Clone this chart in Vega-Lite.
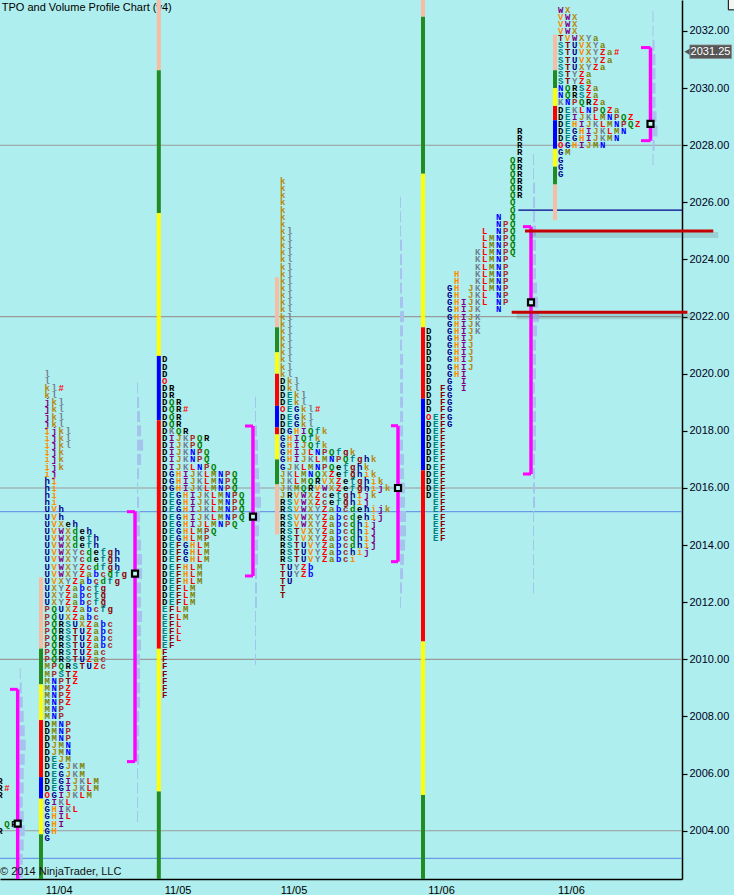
{
"$schema":"https://vega.github.io/schema/vega-lite/v6.json",
"width":682,"height":879,
"autosize":{"type":"none"},
"padding":{"left":0,"top":0,"right":52,"bottom":16},
"background":"#AFEEEE",
"config":{"view":{"stroke":null},"axis":{"grid":false}},
"resolve":{"scale":{"color":"independent"}},
"datasets":{
"sessions":[
{"g":0,"x0":0,"xv":2.53,"xt":1.43,"xvp":2.82},
{"g":1,"x0":6.76,"xb":5.86,"xv":19.29,"xt":18.14,"xvp":19.58},
{"g":2,"x0":23.53,"xb":22.69,"xv":36.14,"xt":35.0,"xvp":36.43},
{"g":3,"x0":40.39,"xb":39.57,"xv":56.86,"xt":55.86,"xvp":57.15},
{"g":4,"x0":61.24,"xb":60.43,"xv":75.86,"xt":74.71,"xvp":76.15},
{"g":5,"x0":80.1,"xb":79.29,"xv":92.93,"xt":91.57,"xvp":93.22}
],
"letters":[
{"g":0,"p":2005.75,"s":"R"},{"g":0,"p":2005.5,"s":"R#"},{"g":0,"p":2005.25,"s":"R"},{"g":0,"p":2004.25,"s":".QR"},{"g":0,"p":2004,"s":"R"},
{"g":1,"p":2020,"s":"l"},{"g":1,"p":2019.75,"s":"l"},{"g":1,"p":2019.5,"s":"kl#"},{"g":1,"p":2019.25,"s":"kl"},
{"g":1,"p":2019,"s":"jkl"},{"g":1,"p":2018.75,"s":"jkl"},{"g":1,"p":2018.5,"s":"jkl"},{"g":1,"p":2018.25,"s":"jkl"},
{"g":1,"p":2018,"s":"ijkl"},{"g":1,"p":2017.75,"s":"ijkl"},{"g":1,"p":2017.5,"s":"ijkl"},{"g":1,"p":2017.25,"s":"ijk"},
{"g":1,"p":2017,"s":"ijk"},{"g":1,"p":2016.75,"s":"ijk"},{"g":1,"p":2016.5,"s":"ij"},{"g":1,"p":2016.25,"s":"hi"},
{"g":1,"p":2016,"s":"hi"},{"g":1,"p":2015.75,"s":"hi"},{"g":1,"p":2015.5,"s":"hi"},{"g":1,"p":2015.25,"s":"UVh"},
{"g":1,"p":2015,"s":"UVh"},{"g":1,"p":2014.75,"s":"UVXeh"},{"g":1,"p":2014.5,"s":"UVWXdeh"},{"g":1,"p":2014.25,"s":"UVWXdefh"},
{"g":1,"p":2014,"s":"UVWXdefh"},{"g":1,"p":2013.75,"s":"UVWXYcdefgh"},{"g":1,"p":2013.5,"s":"UVWXYcdefgh"},{"g":1,"p":2013.25,"s":"UVWXYZcdfgh"},
{"g":1,"p":2013,"s":"UVWXYZabcdfg"},{"g":1,"p":2012.75,"s":"UVXYZabcdfg"},{"g":1,"p":2012.5,"s":"UXYZabcfg"},{"g":1,"p":2012.25,"s":"UXYZabcfg"},
{"g":1,"p":2012,"s":"UXYZabcfg"},{"g":1,"p":2011.75,"s":"PQUXZabcfg"},{"g":1,"p":2011.5,"s":"PQUXZabc"},{"g":1,"p":2011.25,"s":"PQRSUXZabc"},
{"g":1,"p":2011,"s":"PQRSTUZabc"},{"g":1,"p":2010.75,"s":"PQRSTUZabc"},{"g":1,"p":2010.5,"s":"PQRSTUZabc"},{"g":1,"p":2010.25,"s":"PQRSTUZac"},
{"g":1,"p":2010,"s":"PQRSTUZac"},{"g":1,"p":2009.75,"s":"MPQRSTUZc"},{"g":1,"p":2009.5,"s":"MPSTZ"},{"g":1,"p":2009.25,"s":"MNPTZ"},
{"g":1,"p":2009,"s":"MNPZ"},{"g":1,"p":2008.75,"s":"MNPZ"},{"g":1,"p":2008.5,"s":"MNPZ"},{"g":1,"p":2008.25,"s":"MNP"},
{"g":1,"p":2008,"s":"MNP"},{"g":1,"p":2007.75,"s":"DMNP"},{"g":1,"p":2007.5,"s":"DMNP"},{"g":1,"p":2007.25,"s":"DMNP"},
{"g":1,"p":2007,"s":"DJMN"},{"g":1,"p":2006.75,"s":"DJMN"},{"g":1,"p":2006.5,"s":"DEJM"},{"g":1,"p":2006.25,"s":"DEGJKM"},
{"g":1,"p":2006,"s":"DEGJKM"},{"g":1,"p":2005.75,"s":"DEGIJKLM"},{"g":1,"p":2005.5,"s":"DEGIJKLM"},{"g":1,"p":2005.25,"s":"OGIJKLM"},
{"g":1,"p":2005,"s":"GIKL"},{"g":1,"p":2004.75,"s":"GHIKL"},{"g":1,"p":2004.5,"s":"GHIL"},{"g":1,"p":2004.25,"s":"GHI"},
{"g":1,"p":2004,"s":"GH"},{"g":1,"p":2003.75,"s":"G"},
{"g":2,"p":2020.5,"s":"D"},{"g":2,"p":2020.25,"s":"D"},{"g":2,"p":2020,"s":"D"},{"g":2,"p":2019.75,"s":"O"},
{"g":2,"p":2019.5,"s":"DR"},{"g":2,"p":2019.25,"s":"DR"},{"g":2,"p":2019,"s":"DQR"},{"g":2,"p":2018.75,"s":"DQR#"},
{"g":2,"p":2018.5,"s":"DQR"},{"g":2,"p":2018.25,"s":"DQR"},{"g":2,"p":2018,"s":"DKQR"},{"g":2,"p":2017.75,"s":"DIJKPQR"},
{"g":2,"p":2017.5,"s":"DIJKPQ"},{"g":2,"p":2017.25,"s":"DIJKNPQ"},{"g":2,"p":2017,"s":"DIJKNPQ"},{"g":2,"p":2016.75,"s":"DIJKLNPQ"},
{"g":2,"p":2016.5,"s":"DGHIJKLMNPQ"},{"g":2,"p":2016.25,"s":"DGHIJKLMNPQ"},{"g":2,"p":2016,"s":"DGHIJKLMNPQ"},{"g":2,"p":2015.75,"s":"DEGHIJKLMNPQ"},
{"g":2,"p":2015.5,"s":"DEGHIJKLMNPQ"},{"g":2,"p":2015.25,"s":"DEGHIJKLMNPQ"},{"g":2,"p":2015,"s":"DEGHIJKLMNPQ"},{"g":2,"p":2014.75,"s":"DEGHIJLMNPQ"},
{"g":2,"p":2014.5,"s":"DEGHLMPQ"},{"g":2,"p":2014.25,"s":"DEGHLMP"},{"g":2,"p":2014,"s":"DEFGHLM"},{"g":2,"p":2013.75,"s":"DEFGHLM"},
{"g":2,"p":2013.5,"s":"DEFGHLM"},{"g":2,"p":2013.25,"s":"DEFHLM"},{"g":2,"p":2013,"s":"DEFHLM"},{"g":2,"p":2012.75,"s":"DEFHLM"},
{"g":2,"p":2012.5,"s":"DEFLM"},{"g":2,"p":2012.25,"s":"DEFLM"},{"g":2,"p":2012,"s":"DEFLM"},{"g":2,"p":2011.75,"s":"EFLM"},
{"g":2,"p":2011.5,"s":"EFLM"},{"g":2,"p":2011.25,"s":"EFL"},{"g":2,"p":2011,"s":"EFL"},{"g":2,"p":2010.75,"s":"EFL"},
{"g":2,"p":2010.5,"s":"EF"},{"g":2,"p":2010.25,"s":"F"},{"g":2,"p":2010,"s":"F"},{"g":2,"p":2009.75,"s":"F"},
{"g":2,"p":2009.5,"s":"F"},{"g":2,"p":2009.25,"s":"F"},{"g":2,"p":2009,"s":"F"},{"g":2,"p":2008.75,"s":"F"},
{"g":3,"p":2026.75,"s":"k"},{"g":3,"p":2026.5,"s":"k"},{"g":3,"p":2026.25,"s":"k"},{"g":3,"p":2026,"s":"k"},
{"g":3,"p":2025.75,"s":"k"},{"g":3,"p":2025.5,"s":"k"},{"g":3,"p":2025.25,"s":"k"},{"g":3,"p":2025,"s":"kl"},
{"g":3,"p":2024.75,"s":"kl"},{"g":3,"p":2024.5,"s":"kl"},{"g":3,"p":2024.25,"s":"kl"},{"g":3,"p":2024,"s":"kl"},
{"g":3,"p":2023.75,"s":"kl"},{"g":3,"p":2023.5,"s":"kl"},{"g":3,"p":2023.25,"s":"kl"},{"g":3,"p":2023,"s":"kl"},
{"g":3,"p":2022.75,"s":"kl"},{"g":3,"p":2022.5,"s":"kl"},{"g":3,"p":2022.25,"s":"kl"},{"g":3,"p":2022,"s":"kl"},
{"g":3,"p":2021.75,"s":"kl"},{"g":3,"p":2021.5,"s":"kl"},{"g":3,"p":2021.25,"s":"kl"},{"g":3,"p":2021,"s":"kl"},
{"g":3,"p":2020.75,"s":"kl"},{"g":3,"p":2020.5,"s":"kl"},{"g":3,"p":2020.25,"s":"kl"},{"g":3,"p":2020,"s":"kl"},
{"g":3,"p":2019.75,"s":"Dkl"},{"g":3,"p":2019.5,"s":"Dkl"},{"g":3,"p":2019.25,"s":"DEkl"},{"g":3,"p":2019,"s":"DEkl"},
{"g":3,"p":2018.75,"s":"OEGkl#"},{"g":3,"p":2018.5,"s":"DEGkl"},{"g":3,"p":2018.25,"s":"DEGkl"},{"g":3,"p":2018,"s":"DGHIQfk"},
{"g":3,"p":2017.75,"s":"GHIQfk"},{"g":3,"p":2017.5,"s":"GHIJQfk"},{"g":3,"p":2017.25,"s":"GHIJLNPQfgk"},{"g":3,"p":2017,"s":"GHIJKLMNPQfghk"},
{"g":3,"p":2016.75,"s":"GJKLMNPQefghk"},{"g":3,"p":2016.5,"s":"JKLMNQXZefghik"},{"g":3,"p":2016.25,"s":"JKLMQRVXZefghik"},{"g":3,"p":2016,"s":"JKMQRVWXZefghijk"},
{"g":3,"p":2015.75,"s":"JRVWXZcefghijk"},{"g":3,"p":2015.5,"s":"RSVWXZcefghij"},{"g":3,"p":2015.25,"s":"RSVWXYZabcdehijk"},{"g":3,"p":2015,"s":"RSVWXYZabcdehij"},
{"g":3,"p":2014.75,"s":"RSVWXYZabcdhij"},{"g":3,"p":2014.5,"s":"RSTVXYZabcdhij"},{"g":3,"p":2014.25,"s":"RSTVXYZabcdhij"},{"g":3,"p":2014,"s":"RSTUVYZabcdhij"},
{"g":3,"p":2013.75,"s":"RSTUVYZabchij"},{"g":3,"p":2013.5,"s":"RSTUVYZabci"},{"g":3,"p":2013.25,"s":"TUYZb"},{"g":3,"p":2013,"s":"TUYZb"},
{"g":3,"p":2012.75,"s":"TU"},{"g":3,"p":2012.5,"s":"T"},{"g":3,"p":2012.25,"s":"T"},
{"g":4,"p":2028.5,"s":".............R"},{"g":4,"p":2028.25,"s":".............R"},{"g":4,"p":2028,"s":".............R"},{"g":4,"p":2027.75,"s":".............R"},
{"g":4,"p":2027.5,"s":"............QR"},{"g":4,"p":2027.25,"s":"............QR"},{"g":4,"p":2027,"s":"............QR"},{"g":4,"p":2026.75,"s":"............QR"},
{"g":4,"p":2026.5,"s":"............QR"},{"g":4,"p":2026.25,"s":"............QR"},{"g":4,"p":2026,"s":"............Q"},{"g":4,"p":2025.75,"s":"............Q"},
{"g":4,"p":2025.5,"s":"..........N.Q"},{"g":4,"p":2025.25,"s":"..........NPQ"},{"g":4,"p":2025,"s":"........L.NPQ"},{"g":4,"p":2024.75,"s":"........LMNPQ"},
{"g":4,"p":2024.5,"s":"........LMNPQ"},{"g":4,"p":2024.25,"s":".......KLMNPQ"},{"g":4,"p":2024,"s":".......KLMNP"},{"g":4,"p":2023.75,"s":".......KLMNP"},
{"g":4,"p":2023.5,"s":"....H..KLMNP"},{"g":4,"p":2023.25,"s":"....H..KLMNP"},{"g":4,"p":2023,"s":"...GH.JKLMNP"},{"g":4,"p":2022.75,"s":"...GH.JKL.NP"},
{"g":4,"p":2022.5,"s":"...GHIJKL.NP"},{"g":4,"p":2022.25,"s":"...GHIJK..N"},{"g":4,"p":2022,"s":"...GHIJK"},{"g":4,"p":2021.75,"s":"...GHIJK"},
{"g":4,"p":2021.5,"s":"D..GHIJK"},{"g":4,"p":2021.25,"s":"D..GHIJ"},{"g":4,"p":2021,"s":"D..GHIJ"},{"g":4,"p":2020.75,"s":"D..GHIJ"},
{"g":4,"p":2020.5,"s":"D..GHIJ"},{"g":4,"p":2020.25,"s":"D..GHIJ"},{"g":4,"p":2020,"s":"D..GHI"},{"g":4,"p":2019.75,"s":"D..G.I"},
{"g":4,"p":2019.5,"s":"D.FG.I"},{"g":4,"p":2019.25,"s":"D.FG"},{"g":4,"p":2019,"s":"D.FG"},{"g":4,"p":2018.75,"s":"D.FG"},
{"g":4,"p":2018.5,"s":"OEFG"},{"g":4,"p":2018.25,"s":"DEFG"},{"g":4,"p":2018,"s":"DEF"},{"g":4,"p":2017.75,"s":"DEF"},
{"g":4,"p":2017.5,"s":"DEF"},{"g":4,"p":2017.25,"s":"DEF"},{"g":4,"p":2017,"s":"DEF"},{"g":4,"p":2016.75,"s":"DEF"},
{"g":4,"p":2016.5,"s":"DEF"},{"g":4,"p":2016.25,"s":"DEF"},{"g":4,"p":2016,"s":"DEF"},{"g":4,"p":2015.75,"s":"DEF"},
{"g":4,"p":2015.5,"s":".EF"},{"g":4,"p":2015.25,"s":".EF"},{"g":4,"p":2015,"s":".EF"},{"g":4,"p":2014.75,"s":".EF"},
{"g":4,"p":2014.5,"s":".EF"},{"g":4,"p":2014.25,"s":".EF"},
{"g":5,"p":2032.75,"s":"WX"},{"g":5,"p":2032.5,"s":"VWX"},{"g":5,"p":2032.25,"s":"VWX"},{"g":5,"p":2032,"s":"VWX"},
{"g":5,"p":2031.75,"s":"TVWXYa"},{"g":5,"p":2031.5,"s":"STUVXYa"},{"g":5,"p":2031.25,"s":"STUVXYZa#"},{"g":5,"p":2031,"s":"STUVXYZa"},
{"g":5,"p":2030.75,"s":"STUXYZa"},{"g":5,"p":2030.5,"s":"STYZa"},{"g":5,"p":2030.25,"s":"STYZa"},{"g":5,"p":2030,"s":"NQRSZa"},
{"g":5,"p":2029.75,"s":"NQRSZa"},{"g":5,"p":2029.5,"s":"KNPQRZa"},{"g":5,"p":2029.25,"s":"DEKLNPQZa"},{"g":5,"p":2029,"s":"DEIJKLMNPQZ"},
{"g":5,"p":2028.75,"s":"DEHIJKLMNPQZ"},{"g":5,"p":2028.5,"s":"DEGHIJKLMN"},{"g":5,"p":2028.25,"s":"DEGHIJKMN"},{"g":5,"p":2028,"s":"OGHIJMN"},
{"g":5,"p":2027.75,"s":"GM"},{"g":5,"p":2027.5,"s":"G"},{"g":5,"p":2027.25,"s":"G"},{"g":5,"p":2027,"s":"G"}
],
"segs":[
{"g":1,"lo":2010.375,"hi":2012.875,"k":"s"},{"g":1,"lo":2009.125,"hi":2010.375,"k":"g"},{"g":1,"lo":2007.875,"hi":2009.125,"k":"y"},
{"g":1,"lo":2005.875,"hi":2007.875,"k":"r"},{"g":1,"lo":2005.125,"hi":2005.875,"k":"b"},{"g":1,"lo":2003.875,"hi":2005.125,"k":"y"},
{"g":1,"lo":2002.31,"hi":2003.875,"k":"g"},
{"g":2,"lo":2030.625,"hi":2033.085,"k":"s"},{"g":2,"lo":2025.625,"hi":2030.625,"k":"g"},{"g":2,"lo":2020.625,"hi":2025.625,"k":"y"},
{"g":2,"lo":2018.375,"hi":2020.625,"k":"b"},{"g":2,"lo":2010.375,"hi":2018.375,"k":"r"},{"g":2,"lo":2005.375,"hi":2010.375,"k":"y"},
{"g":2,"lo":2002.31,"hi":2005.375,"k":"g"},
{"g":3,"lo":2021.625,"hi":2023.375,"k":"s"},{"g":3,"lo":2020.75,"hi":2021.625,"k":"g"},{"g":3,"lo":2020.0,"hi":2020.75,"k":"y"},
{"g":3,"lo":2018.875,"hi":2020.0,"k":"r"},{"g":3,"lo":2018.125,"hi":2018.875,"k":"b"},{"g":3,"lo":2017.875,"hi":2018.125,"k":"r"},
{"g":3,"lo":2017.0,"hi":2017.875,"k":"y"},{"g":3,"lo":2016.125,"hi":2017.0,"k":"g"},{"g":3,"lo":2014.375,"hi":2016.125,"k":"s"},
{"g":4,"lo":2032.5,"hi":2033.085,"k":"s"},{"g":4,"lo":2027.0,"hi":2032.5,"k":"g"},{"g":4,"lo":2021.625,"hi":2027.0,"k":"y"},
{"g":4,"lo":2019.125,"hi":2021.625,"k":"r"},{"g":4,"lo":2016.625,"hi":2019.125,"k":"b"},{"g":4,"lo":2010.625,"hi":2016.625,"k":"r"},
{"g":4,"lo":2005.25,"hi":2010.625,"k":"y"},{"g":4,"lo":2002.31,"hi":2005.25,"k":"g"},
{"g":5,"lo":2030.625,"hi":2031.875,"k":"s"},{"g":5,"lo":2030.0,"hi":2030.625,"k":"g"},{"g":5,"lo":2029.375,"hi":2030.0,"k":"y"},
{"g":5,"lo":2028.875,"hi":2029.375,"k":"r"},{"g":5,"lo":2027.875,"hi":2028.875,"k":"b"},{"g":5,"lo":2027.25,"hi":2027.875,"k":"y"},
{"g":5,"lo":2026.625,"hi":2027.25,"k":"g"},{"g":5,"lo":2025.375,"hi":2026.625,"k":"s"}
],
"brackets":[
{"g":0,"lo":2001.5,"hi":2008.95,"poc":2004.25},
{"g":1,"lo":2006.42,"hi":2015.17,"poc":2013.0},
{"g":2,"lo":2012.92,"hi":2018.17,"poc":2015.0},
{"g":3,"lo":2013.42,"hi":2018.18,"poc":2016.0},
{"g":4,"lo":2016.49,"hi":2025.15,"poc":2022.5},
{"g":5,"lo":2028.16,"hi":2031.42,"poc":2028.75}
],
"vols":[
{"g":0,"p":2009.5,"w":1},{"g":0,"p":2009,"w":2},{"g":0,"p":2008.5,"w":3},{"g":0,"p":2008,"w":4},{"g":0,"p":2007.5,"w":5},
{"g":0,"p":2007,"w":6},{"g":0,"p":2006.5,"w":5},{"g":0,"p":2006,"w":4},{"g":0,"p":2005.5,"w":4},{"g":0,"p":2005,"w":3},
{"g":0,"p":2004.5,"w":4},{"g":0,"p":2004,"w":5},{"g":0,"p":2003.5,"w":4},{"g":0,"p":2003,"w":3},{"g":0,"p":2002.5,"w":3},
{"g":1,"p":2019.5,"w":1},{"g":1,"p":2019,"w":2},{"g":1,"p":2018.5,"w":3},{"g":1,"p":2018,"w":4},{"g":1,"p":2017.5,"w":6},
{"g":1,"p":2017,"w":4},{"g":1,"p":2016.5,"w":2},{"g":1,"p":2016,"w":1},{"g":1,"p":2015.5,"w":2},{"g":1,"p":2015,"w":3},
{"g":1,"p":2014.5,"w":3},{"g":1,"p":2014,"w":4},{"g":1,"p":2013.5,"w":5},{"g":1,"p":2013,"w":5},{"g":1,"p":2012.5,"w":4},
{"g":1,"p":2012,"w":4},{"g":1,"p":2011.5,"w":5},{"g":1,"p":2011,"w":4},{"g":1,"p":2010.5,"w":4},{"g":1,"p":2010,"w":3},
{"g":1,"p":2009.5,"w":3},{"g":1,"p":2009,"w":3},{"g":1,"p":2008.5,"w":3},{"g":1,"p":2008,"w":2},{"g":1,"p":2007.5,"w":2},
{"g":1,"p":2007,"w":2},{"g":1,"p":2006.5,"w":2},{"g":1,"p":2006,"w":1},{"g":1,"p":2005.5,"w":1},{"g":1,"p":2005,"w":1},{"g":1,"p":2004.5,"w":1},
{"g":2,"p":2019,"w":1},{"g":2,"p":2018.5,"w":1},{"g":2,"p":2018,"w":2},{"g":2,"p":2017.5,"w":3},{"g":2,"p":2017,"w":3},
{"g":2,"p":2016.5,"w":4},{"g":2,"p":2016,"w":5},{"g":2,"p":2015.5,"w":6},{"g":2,"p":2015,"w":5},{"g":2,"p":2014.5,"w":4},
{"g":2,"p":2014,"w":3},{"g":2,"p":2013.5,"w":3},{"g":2,"p":2013,"w":2},{"g":2,"p":2012.5,"w":2},{"g":2,"p":2012,"w":2},
{"g":2,"p":2011.5,"w":1},{"g":2,"p":2011,"w":1},{"g":2,"p":2010.5,"w":1},{"g":2,"p":2010,"w":1},
{"g":3,"p":2026,"w":1},{"g":3,"p":2025.5,"w":1},{"g":3,"p":2025,"w":1},{"g":3,"p":2024.5,"w":2},{"g":3,"p":2024,"w":2},
{"g":3,"p":2023.5,"w":2},{"g":3,"p":2023,"w":2},{"g":3,"p":2022.5,"w":3},{"g":3,"p":2022,"w":4},{"g":3,"p":2021.5,"w":3},
{"g":3,"p":2021,"w":2},{"g":3,"p":2020.5,"w":3},{"g":3,"p":2020,"w":3},{"g":3,"p":2019.5,"w":3},{"g":3,"p":2019,"w":3},
{"g":3,"p":2018.5,"w":3},{"g":3,"p":2018,"w":3},{"g":3,"p":2017.5,"w":3},{"g":3,"p":2017,"w":4},{"g":3,"p":2016.5,"w":4},
{"g":3,"p":2016,"w":5},{"g":3,"p":2015.5,"w":5},{"g":3,"p":2015,"w":6},{"g":3,"p":2014.5,"w":6},{"g":3,"p":2014,"w":5},
{"g":3,"p":2013.5,"w":4},{"g":3,"p":2013,"w":3},{"g":3,"p":2012.5,"w":2},{"g":3,"p":2012,"w":1},
{"g":4,"p":2027.5,"w":1},{"g":4,"p":2027,"w":1},{"g":4,"p":2026.5,"w":2},{"g":4,"p":2026,"w":2},{"g":4,"p":2025.5,"w":2},
{"g":4,"p":2025,"w":3},{"g":4,"p":2024.5,"w":3},{"g":4,"p":2024,"w":3},{"g":4,"p":2023.5,"w":3},{"g":4,"p":2023,"w":4},
{"g":4,"p":2022.5,"w":5},{"g":4,"p":2022,"w":6},{"g":4,"p":2021.5,"w":4},{"g":4,"p":2021,"w":3},{"g":4,"p":2020.5,"w":3},
{"g":4,"p":2020,"w":3},{"g":4,"p":2019.5,"w":2},{"g":4,"p":2019,"w":3},{"g":4,"p":2018.5,"w":3},{"g":4,"p":2018,"w":3},
{"g":4,"p":2017.5,"w":3},{"g":4,"p":2017,"w":2},{"g":4,"p":2016.5,"w":2},{"g":4,"p":2016,"w":2},{"g":4,"p":2015.5,"w":2},
{"g":4,"p":2015,"w":1},{"g":4,"p":2014.5,"w":1},{"g":4,"p":2014,"w":1},{"g":4,"p":2013.5,"w":1},{"g":4,"p":2013,"w":1},{"g":4,"p":2012.5,"w":1},
{"g":5,"p":2032.5,"w":1},{"g":5,"p":2032,"w":1},{"g":5,"p":2031.5,"w":2},{"g":5,"p":2031,"w":3},{"g":5,"p":2030.5,"w":3},
{"g":5,"p":2030,"w":3},{"g":5,"p":2029.5,"w":3},{"g":5,"p":2029,"w":4},{"g":5,"p":2028.5,"w":5},{"g":5,"p":2028,"w":2},{"g":5,"p":2027.5,"w":1}
]
},
"layer":[
{"data":{"values":[{"p":2025.73,"a":74.05,"b":97.43}]},
 "mark":{"type":"rule","color":"#00008B","strokeWidth":1.3},
 "encoding":{"x":{"field":"a","type":"quantitative","title":null,"scale":{"domain":[0,97.43],"nice":false,"zero":false},
   "axis":{"orient":"bottom","values":[8.39,25.36,41.93,63.0,81.57],"labelExpr":"datum.value < 15 ? '11/04' : datum.value < 50 ? '11/05' : '11/06'","tickSize":0,"domainColor":"#000000","domainWidth":1.5,"labelFont":"Liberation Sans","labelFontSize":11,"labelColor":"#000000","labelPadding":5,"title":null,"grid":false,"labelFlush":false,"labelOverlap":false}},"x2":{"field":"b"},
   "y":{"field":"p","type":"quantitative","title":null,"scale":{"domain":[2002.31,2033.085],"nice":false,"zero":false},
   "axis":{"orient":"right","values":[2004,2006,2008,2010,2012,2014,2016,2018,2020,2022,2024,2026,2028,2030,2032],"format":".2f","tickSize":5,"tickColor":"#000000","tickWidth":1.2,"domainColor":"#000000","domainWidth":1.5,"labelFont":"Liberation Sans","labelFontSize":11,"labelColor":"#000022","labelPadding":2,"title":null,"grid":false,"labelFlush":false,"labelOverlap":false}}}},
{"data":{"values":[{"p":2028},{"p":2022},{"p":2016},{"p":2010},{"p":2004}]},
 "mark":{"type":"rule","color":"#9A9A9A","strokeWidth":1.2},
 "encoding":{"y":{"field":"p","type":"quantitative","title":null,"scale":{"domain":[2002.31,2033.085],"nice":false,"zero":false}}}},
{"data":{"values":[{"p":2015.17},{"p":2003.03}]},
 "mark":{"type":"rule","color":"#6B9BE6","strokeWidth":1.2},
 "encoding":{"y":{"field":"p","type":"quantitative","title":null,"scale":{"domain":[2002.31,2033.085],"nice":false,"zero":false}}}},
{"data":{"name":"vols"},
 "transform":[{"lookup":"g","from":{"data":{"name":"sessions"},"key":"g","fields":["xvp"]}},{"calculate":"datum.xvp + datum.w/7","as":"xe"}],
 "mark":{"type":"rule","color":"#A6C3EE","strokeWidth":11,"clip":true},
 "encoding":{"x":{"field":"xvp","type":"quantitative","title":null,"scale":{"domain":[0,97.43],"nice":false,"zero":false}},"x2":{"field":"xe"},
   "y":{"field":"p","type":"quantitative","title":null,"scale":{"domain":[2002.31,2033.085],"nice":false,"zero":false}}}},
{"data":{"values":[{}]},
 "mark":{"type":"text","text":"TPO and Volume Profile Chart (v4)","font":"Liberation Sans","fontSize":11,"color":"#000000","align":"left","baseline":"middle"},
 "encoding":{"x":{"datum":0.25,"type":"quantitative","title":null,"scale":{"domain":[0,97.43],"nice":false,"zero":false}},
   "y":{"datum":2032.79,"type":"quantitative","title":null,"scale":{"domain":[2002.31,2033.085],"nice":false,"zero":false}}}},
{"data":{"name":"segs"},
 "transform":[{"lookup":"g","from":{"data":{"name":"sessions"},"key":"g","fields":["xb"]}}],
 "mark":{"type":"rule","strokeWidth":4,"clip":true},
 "encoding":{"x":{"field":"xb","type":"quantitative","title":null,"scale":{"domain":[0,97.43],"nice":false,"zero":false}},
   "y":{"field":"lo","type":"quantitative","title":null,"scale":{"domain":[2002.31,2033.085],"nice":false,"zero":false}},"y2":{"field":"hi"},
   "color":{"field":"k","type":"nominal","scale":{"domain":["s","g","y","r","b"],"range":["#F8BCA2","#228B22","#FFFF00","#FF0000","#0000FF"]},"legend":null}}},
{"data":{"name":"letters"},
 "transform":[{"lookup":"g","from":{"data":{"name":"sessions"},"key":"g","fields":["x0"]}},
   {"calculate":"split(datum.s,'')","as":"chars"},
   {"flatten":["chars"],"as":["ch"]},
   {"filter":"datum.ch !== '.'"},
   {"calculate":"datum.x0 + indexof(datum.s, datum.ch)","as":"xx"}],
 "mark":{"type":"text","font":"Liberation Mono","fontSize":9,"fontWeight":"bold","align":"center","baseline":"middle"},
 "encoding":{"x":{"field":"xx","type":"quantitative","title":null,"scale":{"domain":[0,97.43],"nice":false,"zero":false}},
   "y":{"field":"p","type":"quantitative","title":null,"scale":{"domain":[2002.31,2033.085],"nice":false,"zero":false}},
   "text":{"field":"ch"},
   "color":{"field":"ch","type":"nominal","legend":null,"scale":{
     "domain":["D","E","F","G","H","I","J","K","L","M","N","O","P","Q","R","S","T","U","V","W","X","Y","Z","a","b","c","d","e","f","g","h","i","j","k","l","#"],
     "range":["#000000","#008080","#8B0000","#00008B","#FF8C00","#800080","#B8860B","#708090","#FF0000","#808000","#0000FF","#FF0000","#A52A2A","#008000","#000000","#008080","#8B0000","#00008B","#FF8C00","#800080","#B8860B","#708090","#FF0000","#808000","#0000FF","#A52A2A","#008000","#000000","#008080","#8B0000","#00008B","#FF8C00","#800080","#B8860B","#708090","#FF0000"]}}}},
{"data":{"name":"brackets"},
 "transform":[{"lookup":"g","from":{"data":{"name":"sessions"},"key":"g","fields":["xv","xt"]}}],
 "mark":{"type":"rule","color":"#FF00FF","strokeWidth":3.5,"clip":true},
 "encoding":{"x":{"field":"xv","type":"quantitative","title":null,"scale":{"domain":[0,97.43],"nice":false,"zero":false}},
   "y":{"field":"lo","type":"quantitative","title":null,"scale":{"domain":[2002.31,2033.085],"nice":false,"zero":false}},"y2":{"field":"hi"}}},
{"data":{"name":"brackets"},
 "transform":[{"lookup":"g","from":{"data":{"name":"sessions"},"key":"g","fields":["xv","xt"]}},{"fold":["lo","hi"],"as":["end","pv"]}],
 "mark":{"type":"rule","color":"#FF00FF","strokeWidth":3,"clip":true},
 "encoding":{"x":{"field":"xt","type":"quantitative","title":null,"scale":{"domain":[0,97.43],"nice":false,"zero":false}},"x2":{"field":"xv"},
   "y":{"field":"pv","type":"quantitative","title":null,"scale":{"domain":[2002.31,2033.085],"nice":false,"zero":false}}}},
{"data":{"name":"brackets"},
 "transform":[{"lookup":"g","from":{"data":{"name":"sessions"},"key":"g","fields":["xv"]}}],
 "mark":{"type":"point","shape":"square","filled":true,"fill":"#C4F4F4","stroke":"#000000","strokeWidth":2.2,"size":36,"opacity":1},
 "encoding":{"x":{"field":"xv","type":"quantitative","title":null,"scale":{"domain":[0,97.43],"nice":false,"zero":false}},
   "y":{"field":"poc","type":"quantitative","title":null,"scale":{"domain":[2002.31,2033.085],"nice":false,"zero":false}}}},
{"data":{"values":[{}]},
 "mark":{"type":"text","text":"© 2014 NinjaTrader, LLC","font":"Liberation Sans","fontSize":11,"color":"#111111","align":"left","baseline":"middle"},
 "encoding":{"x":{"datum":0,"type":"quantitative","title":null,"scale":{"domain":[0,97.43],"nice":false,"zero":false}},
   "y":{"datum":2002.54,"type":"quantitative","title":null,"scale":{"domain":[2002.31,2033.085],"nice":false,"zero":false}}}},
{"data":{"values":[{"p":2025.0,"a":75.0,"b":101.9},{"p":2022.15,"a":73.1,"b":98.2}]},
 "transform":[{"calculate":"datum.p - 0.14","as":"ps"},{"calculate":"datum.a + 0.7","as":"as"},{"calculate":"datum.b + 0.7","as":"bs"}],
 "mark":{"type":"rule","color":"#3A5A5A","opacity":0.18,"strokeWidth":6},
 "encoding":{"x":{"field":"as","type":"quantitative","title":null,"scale":{"domain":[0,97.43],"nice":false,"zero":false}},"x2":{"field":"bs"},
   "y":{"field":"ps","type":"quantitative","title":null,"scale":{"domain":[2002.31,2033.085],"nice":false,"zero":false}}}},
{"data":{"values":[{"p":2025.0,"a":75.0,"b":101.9},{"p":2022.15,"a":73.1,"b":98.2}]},
 "mark":{"type":"rule","color":"#C40000","strokeWidth":3},
 "encoding":{"x":{"field":"a","type":"quantitative","title":null,"scale":{"domain":[0,97.43],"nice":false,"zero":false}},"x2":{"field":"b"},
   "y":{"field":"p","type":"quantitative","title":null,"scale":{"domain":[2002.31,2033.085],"nice":false,"zero":false}}}},
{"data":{"values":[{}]},
 "mark":{"type":"point","shape":"triangle-left","filled":true,"color":"#555555","size":90,"opacity":1},
 "encoding":{"x":{"datum":98.35,"type":"quantitative","title":null,"scale":{"domain":[0,97.43],"nice":false,"zero":false}},
   "y":{"datum":2031.275,"type":"quantitative","title":null,"scale":{"domain":[2002.31,2033.085],"nice":false,"zero":false}}}},
{"data":{"values":[{}]},
 "mark":{"type":"rect","color":"#555555","stroke":"#8A8A8A","strokeWidth":0.8},
 "encoding":{"x":{"datum":98.55,"type":"quantitative","title":null,"scale":{"domain":[0,97.43],"nice":false,"zero":false}},"x2":{"datum":104.5},
   "y":{"datum":2031.04,"type":"quantitative","title":null,"scale":{"domain":[2002.31,2033.085],"nice":false,"zero":false}},"y2":{"datum":2031.51}}},
{"data":{"values":[{}]},
 "mark":{"type":"text","text":"2031.25","font":"Liberation Sans","fontSize":11,"color":"#FFFFFF","align":"center","baseline":"middle"},
 "encoding":{"x":{"datum":101.5,"type":"quantitative","title":null,"scale":{"domain":[0,97.43],"nice":false,"zero":false}},
   "y":{"datum":2031.275,"type":"quantitative","title":null,"scale":{"domain":[2002.31,2033.085],"nice":false,"zero":false}}}},
{"data":{"values":[{}]},
 "mark":{"type":"rect","fill":"#F4F4F4","stroke":"#000000","strokeWidth":1},
 "encoding":{"x":{"datum":104.05,"type":"quantitative","title":null,"scale":{"domain":[0,97.43],"nice":false,"zero":false}},"x2":{"datum":105.5},
   "y":{"datum":2032.74,"type":"quantitative","title":null,"scale":{"domain":[2002.31,2033.085],"nice":false,"zero":false}},"y2":{"datum":2033.2}}}
]
}
